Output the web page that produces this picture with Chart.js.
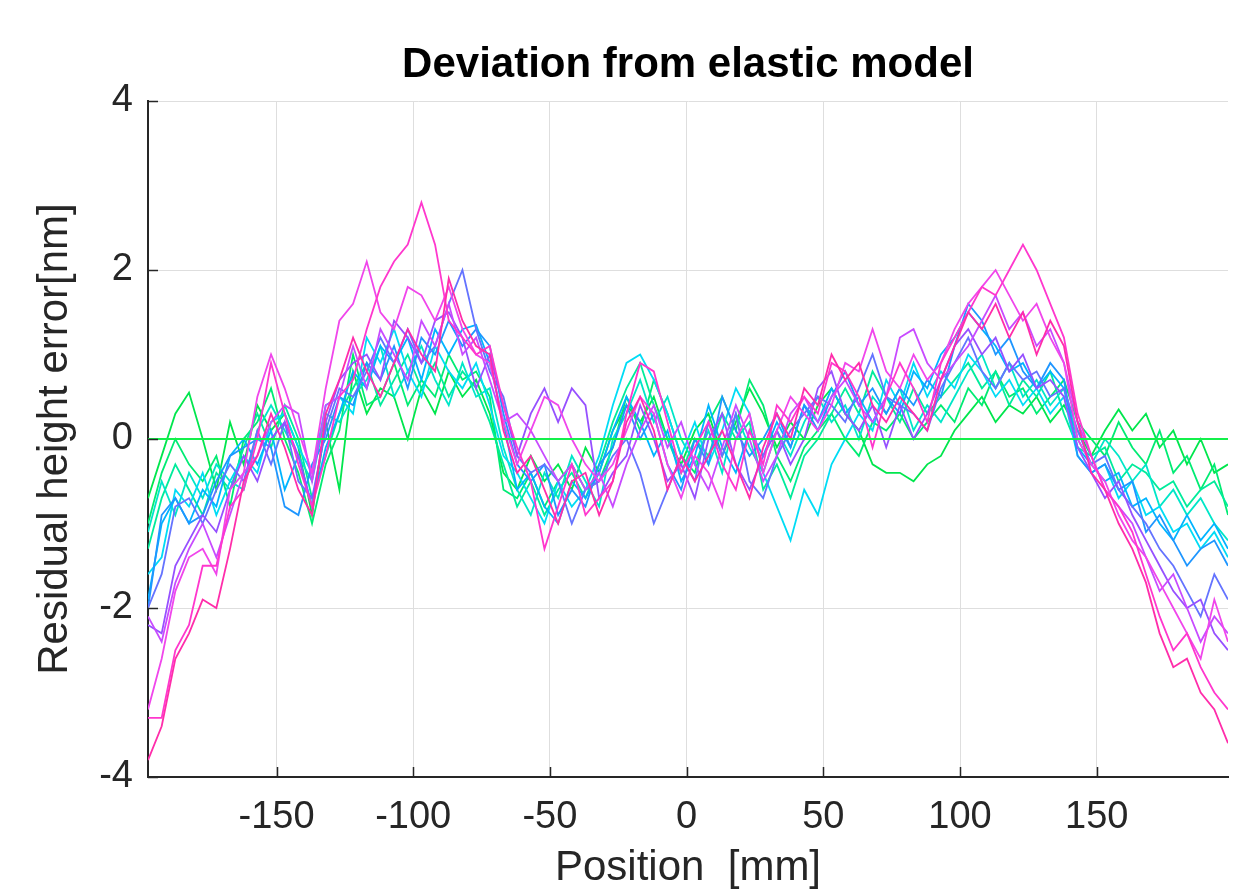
<!DOCTYPE html>
<html>
<head>
<meta charset="utf-8">
<script src="https://cdn.jsdelivr.net/npm/chart.js@4"></script>
<style>
  html, body { margin: 0; padding: 0; background: #fff; }
  canvas { display: block; }
</style>
</head>
<body>
<canvas id="chart" width="1237" height="891"></canvas>
<script>
const FONT = '"Liberation Sans", Arial, Helvetica, sans-serif';
const chartTitle = 'Deviation from elastic model';

// positions along the part [mm]
const positions = [
  -197, -192, -187, -182, -177, -172, -167, -162, -157, -152,
  -147, -142, -137, -132, -127, -122, -117, -112, -107, -102,
  -97, -92, -87, -82, -77, -72, -67, -62, -57, -52,
  -47, -42, -37, -32, -27, -22, -17, -12, -7, -2,
  3, 8, 13, 18, 23, 28, 33, 38, 43, 48,
  53, 58, 63, 68, 73, 78, 83, 88, 93, 98,
  103, 108, 113, 118, 123, 128, 133, 138, 143, 148,
  153, 158, 163, 168, 173, 178, 183, 188, 193, 198
];
const xTicks = [-150, -100, -50, 0, 50, 100, 150];
const yTicks = [-4, -2, 0, 2, 4];

// reference (zero) line
const referenceX = [-197, 198];
const referenceLine = [0, 0];

// residuals [nm], one array per measurement
const green1 = [
  -0.7, -0.2, 0.3, 0.55, 0.0, -0.6, 0.2, -0.3, 0.4, 0.1,
  0.3, -0.1, -0.9, 0.2, -0.6, 0.8, 0.3, 0.6, 0.5, 0.0,
  0.6, 0.3, 0.8, 0.5, 0.7, 0.3, -0.4, -0.6, -0.2, -0.5,
  -0.3, -0.6, -0.1, -0.4, 0.1, 0.4, 0.2, 0.5, 0.0, -0.3,
  0.1, 0.3, -0.2, 0.2, 0.6, 0.3, -0.1, 0.2, 0.0, 0.4,
  0.6, 0.3, 0.1, -0.3, -0.4, -0.4, -0.5, -0.3, -0.2, 0.1,
  0.3, 0.5, 0.2, 0.4, 0.3, 0.5, 0.2, 0.4, 0.1, -0.2,
  0.1, 0.35, 0.1, 0.3, -0.1, 0.1, -0.3, 0.0, -0.4, -0.3
];
const green2 = [
  -1.0, -0.4, 0.0, -0.3, -0.5, -0.2, -0.8, 0.0, 0.2, 0.6,
  0.0, -0.4, -1.0, -0.3, 0.1, 1.0, 0.4, 0.5, 0.9, 0.4,
  0.7, 0.5, 1.0, 0.7, 0.8, 0.5, -0.6, -0.7, -0.4, -0.8,
  -0.5, -0.3, -0.6, -0.5, -0.1, 0.5, 0.1, 0.7, 0.3, -0.2,
  -0.4, 0.2, 0.5, 0.1, 0.7, 0.4, -0.2, -0.5, -0.1, 0.1,
  0.3, 0.0, -0.2, 0.2, 0.1, 0.3, 0.0, 0.2, 0.4, 0.2,
  0.6, 0.4, 0.8, 0.5, 0.6, 0.3, 0.5, 0.7, 0.2, 0.0,
  -0.2, 0.2, -0.1, -0.3, 0.1, -0.4, -0.2, -0.6, -0.3, -0.9
];
const teal1 = [
  -1.3, -0.7, -0.3, -0.6, -0.9, -0.4, -0.6, -0.1, 0.3, -0.1,
  0.4, 0.0, -0.7, -0.2, 0.3, 0.6, 0.9, 0.4, 0.7, 1.0,
  0.6, 0.9, 0.5, 0.8, 0.6, 0.2, -0.3, -0.8, -0.5, -0.9,
  -0.6, -0.4, -0.7, -0.3, 0.2, 0.6, 0.9, 0.4, 0.0, -0.4,
  0.0, -0.2, 0.3, 0.0, 0.2, -0.6, -0.3, -0.7, -0.2, 0.0,
  0.3, 0.6, 0.3, 0.8, 0.5, 0.2, 0.6, 0.3, 0.5, 0.7,
  0.9, 0.6, 0.8, 0.4, 0.7, 0.5, 0.8, 0.3, -0.1, -0.2,
  -0.1, -0.5, -0.3, -0.4, -0.6, -0.5, -0.8, -0.6, -0.5, -0.8
];
const teal2 = [
  -1.1, -0.5, -0.9, -0.4, -0.7, -0.3, -0.5, -0.6, 0.1, 0.4,
  0.1, -0.2, -0.5, 0.3, 0.2, 0.5, 0.7, 1.1, 0.5, 0.8,
  1.1, 0.7, 0.4, 0.9, 0.5, 0.6, -0.1, -0.6, -0.9, -0.4,
  -0.7, -0.2, -0.5, -0.8, 0.0, 0.3, 0.7, 0.2, 0.5, 0.0,
  -0.3, 0.1, -0.4, 0.3, -0.1, -0.4, 0.1, -0.2, 0.2, 0.5,
  0.2, 0.4, 0.0, 0.5, 0.3, 0.6, 0.1, 0.4, 0.2, 0.5,
  0.8, 1.0, 0.6, 0.9, 0.5, 0.7, 0.4, 0.6, 0.0, -0.3,
  0.0, -0.2, -0.5, -0.3, -0.8, -0.6, -0.9, -0.7, -1.0, -1.2
];
const cyan1 = [
  -1.6, -1.4, -0.6, -0.8, -0.4, -0.9, -0.5, -0.2, -0.4, 0.2,
  0.3, -0.1, -0.4, 0.4, 0.5, 0.3, 1.2, 0.9, 1.3, 0.8,
  0.5, 1.1, 0.8, 0.6, 0.9, 0.4, -0.2, -0.4, -0.7, -1.0,
  -0.5, -0.8, -0.6, -0.2, 0.4, 0.9, 1.0, 0.7, 0.3, -0.2,
  0.2, -0.3, 0.1, 0.6, 0.3, -0.4, -0.8, -1.2, -0.6, -0.9,
  -0.3, 0.0, 0.3, 0.1, 0.7, 0.4, 0.9, 0.5, 0.8, 0.6,
  1.0, 0.8, 0.5, 0.7, 0.4, 0.6, 0.3, 0.5, -0.2, -0.4,
  -0.3, -0.7, -0.5, -0.9, -0.8, -1.1, -1.0, -1.3, -1.1, -1.4
];
const cyan2 = [
  -1.9, -1.0, -0.7, -1.0, -0.6, -0.8, -0.2, 0.0, -0.3, 0.1,
  -0.6, -0.2, -0.8, -0.1, 0.3, 0.8, 0.6, 1.1, 0.9, 1.2,
  0.7, 1.3, 1.0, 1.3, 1.35, 0.9, 0.2, -0.6, -0.4, -0.8,
  -1.0, -0.5, -0.7, -0.4, 0.1, 0.5, 0.2, -0.2, 0.1, -0.5,
  -0.2, 0.4, -0.1, -0.4, 0.1, -0.2, 0.2, -0.1, 0.4, 0.2,
  0.6, 0.3, 0.5, 0.2, 0.5, 0.3, 0.8, 0.6, 1.0, 1.2,
  1.5, 1.3, 1.1, 0.8, 0.9, 0.6, 0.8, 0.6, -0.1, -0.3,
  -0.5, -0.4, -0.8, -0.7, -1.0, -1.2, -0.9, -1.2, -1.0, -1.3
];
const blue1 = [
  -2.0, -0.9, -0.7, -1.0, -0.9, -0.5, -0.2, -0.1, 0.0, -0.1,
  -0.8, -0.9, -0.3, 0.0, 0.5, 0.4, 0.9, 0.7, 1.1, 0.6,
  1.2, 1.0, 1.4, 1.1, 1.3, 1.1, 0.3, -0.3, -0.5, -0.3,
  -0.9, -0.6, -0.8, -0.3, -0.1, 0.4, 0.0, 0.3, -0.3, -0.6,
  0.0, -0.3, 0.5, 0.1, -0.2, 0.0, 0.3, -0.1, 0.4, 0.1,
  0.5, 0.8, 0.4, 0.6, 0.3, 0.6, 0.4, 0.7, 0.5, 1.1,
  1.6, 1.4, 1.0, 1.2, 0.8, 0.6, 0.9, 0.7, -0.2, -0.4,
  -0.3, -0.6, -0.5, -1.1, -0.9, -1.2, -1.5, -1.3, -1.2, -1.5
];
const blue2 = [
  -2.0, -1.6, -0.8, -0.7, -1.0, -0.6, -0.3, -0.5, 0.1, -0.3,
  0.2, -0.5, -0.7, 0.1, 0.6, 0.5, 0.8, 1.2, 0.9, 1.3,
  0.9, 1.1, 1.6, 2.0, 1.3, 0.8, 0.5, -0.2, -0.4, -0.3,
  -0.5, -1.0, -0.6, -0.5, -0.2, 0.0, -0.4, -1.0, -0.6, -0.2,
  -0.5, 0.2, -0.2, 0.3, -0.5, -0.7, -0.2, 0.1, 0.3, 0.5,
  0.4, 0.2, 0.6, 1.0, 0.5, 0.4, 0.3, 0.1, 0.6, 0.9,
  1.2, 0.8, 0.6, 0.9, 0.7, 0.8, 0.5, 0.6, 0.1, -0.3,
  -0.2, -0.6, -0.8, -1.0, -1.3, -1.5, -1.8, -2.1, -1.6, -1.9
];
const purple1 = [
  -2.2, -2.3, -1.5, -1.2, -0.9, -1.1, -0.6, -0.2, -0.5, 0.0,
  0.2, -0.2, -0.8, 0.2, 0.7, 0.9, 1.0, 0.7, 1.4, 1.2,
  0.9, 1.4, 1.5, 1.2, 0.6, 1.0, 0.4, -0.2, 0.3, 0.6,
  0.2, 0.6, 0.4, -0.7, -0.4, -0.2, 0.4, 0.0, -0.5, -0.3,
  -0.7, 0.0, 0.3, -0.3, -0.6, -0.2, 0.1, -0.3, 0.0, 0.6,
  0.8, 0.3, 0.1, 0.4, -0.1, 0.4, 0.0, 0.3, 0.7, 1.1,
  1.3, 1.0, 1.2, 0.8, 1.0, 0.6, 0.7, 0.5, -0.1, -0.4,
  -0.7, -0.5, -0.9, -1.2, -1.5, -1.8, -2.0, -1.9, -2.3, -2.5
];
const purple2 = [
  -2.1, -2.4, -1.7, -1.3, -1.0, -1.4, -0.9, -0.4, -0.2, 0.2,
  0.4, 0.3, -0.5, 0.4, 0.5, 1.1, 0.6, 1.3, 1.0, 0.7,
  1.4, 1.1, 1.6, 1.0, 1.2, 0.7, 0.2, 0.3, 0.1, -0.2,
  -0.5, -0.3, -0.6, -0.4, -0.8, -0.3, 0.1, 0.4, -0.1, 0.2,
  -0.3, -0.6, -0.1, 0.4, 0.0, -0.5, -0.2, 0.3, 0.5, 0.2,
  0.5, 0.7, 0.4, 0.2, 0.5, 1.2, 1.3, 0.9, 0.7, 0.9,
  1.1, 1.4, 1.7, 1.3, 1.5, 1.1, 1.3, 0.9, 0.2, -0.2,
  -0.6, -0.8, -1.0, -1.4, -1.8, -1.6, -2.0, -2.4, -2.1, -2.3
];
const magenta1 = [
  -3.2, -2.6, -1.8, -1.4, -1.3, -1.6, -0.6, -0.4, 0.5, 1.0,
  0.6, 0.1, -0.4, 0.6, 1.4, 1.6, 2.1, 1.5, 1.3, 1.8,
  1.7, 1.4, 1.8, 1.3, 1.0, 0.9, 0.2, -0.3, 0.1, 0.5,
  0.4, 0.0, -0.3, -0.5, -0.3, 0.1, 0.5, 0.3, -0.3, -0.7,
  -0.2, -0.4, -0.8, 0.0, 0.3, -0.4, 0.1, 0.5, 0.3, 0.1,
  0.4, 0.9, 0.8, 1.3, 0.8, 0.6, 1.0, 0.7, 0.9, 1.3,
  1.6, 1.8, 2.0, 1.7, 1.4, 1.6, 1.2, 0.9, 0.0, -0.3,
  -0.5, -0.9, -1.2, -1.4, -1.7, -2.0, -2.3, -2.6, -1.9, -2.4
];
const pink1 = [
  -3.3, -3.3, -2.5, -2.2, -1.5, -1.5, -0.8, -0.6, 0.0, 0.9,
  0.3, -0.3, -0.8, -0.2, 0.5, 0.7, 1.3, 1.8, 2.1, 2.3,
  2.8, 2.3, 1.4, 1.2, 1.0, 1.1, 0.4, -0.1, -0.5, -1.3,
  -0.8, -0.3, -0.9, -0.7, -0.5, 0.3, 0.9, 0.8, 0.2, -0.4,
  -0.1, 0.2, -0.3, -0.6, 0.1, -0.3, 0.4, 0.2, 0.5, 0.3,
  0.9, 0.8, 0.5, -0.1, 0.5, 0.9, 0.6, 0.2, 0.9, 1.2,
  1.5, 1.8, 1.7, 2.0, 2.3, 2.0, 1.6, 1.2, 0.3, -0.2,
  -0.6, -0.8, -1.1, -1.6, -2.1, -2.5, -2.3, -2.7, -3.0, -3.2
];
const pink2 = [
  -3.8, -3.4, -2.6, -2.3, -1.9, -2.0, -1.3, -0.5, -0.2, 0.3,
  -0.1, -0.6, -0.9, 0.3, 0.7, 1.2, 0.8, 0.5, 0.9, 1.3,
  1.0, 0.8, 1.9, 1.4, 1.1, 1.0, 0.1, -0.4, -0.2, -0.6,
  -1.0, -0.5, -0.4, -0.9, -0.5, 0.2, 0.5, 0.1, -0.6, -0.2,
  -0.5, -0.2, 0.1, -0.3, -0.7, -0.1, 0.3, 0.0, 0.6, 0.4,
  1.0, 0.7, 0.9, 0.4, 0.2, 0.5, 0.3, 0.1, 0.7, 1.1,
  1.5, 1.3, 1.6, 1.2, 1.5, 1.0, 1.4, 1.1, 0.2, -0.4,
  -0.6, -1.0, -1.3, -1.7, -2.3, -2.7, -2.6, -3.0, -3.2, -3.6
];

const series = [
  { values: green1, color: '#00e64d' },
  { values: green2, color: '#00eb73' },
  { values: teal1, color: '#00eb9b' },
  { values: teal2, color: '#00e6c8' },
  { values: cyan1, color: '#00dcf5' },
  { values: cyan2, color: '#00b4ff' },
  { values: blue1, color: '#1e96ff' },
  { values: blue2, color: '#6473ff' },
  { values: purple1, color: '#9650ff' },
  { values: purple2, color: '#c84bff' },
  { values: magenta1, color: '#f046eb' },
  { values: pink1, color: '#ff37cd' },
  { values: pink2, color: '#ff2daa' }
];

const datasets = series.map((s, i) => ({
  data: s.values.map((v, j) => ({ x: positions[j], y: v })),
  borderColor: s.color,
  borderWidth: 1.8,
  order: series.length - i + 1
}));
datasets.push({
  data: referenceLine.map((v, j) => ({ x: referenceX[j], y: v })),
  borderColor: '#14f04b',
  borderWidth: 2,
  order: 0
});

// MATLAB-style inward tick marks + title centred over the axes
const axesDecor = {
  id: 'axesDecor',
  afterDraw(chart) {
    const { ctx, chartArea: a, scales: { x, y } } = chart;
    ctx.save();
    ctx.strokeStyle = '#262626';
    ctx.lineWidth = 1.5;
    x.ticks.forEach(t => {
      const px = Math.round(x.getPixelForValue(t.value)) + 0.5;
      ctx.beginPath();
      ctx.moveTo(px, a.bottom);
      ctx.lineTo(px, a.bottom - 10);
      ctx.stroke();
    });
    y.ticks.forEach(t => {
      const py = Math.round(y.getPixelForValue(t.value)) + 0.5;
      ctx.beginPath();
      ctx.moveTo(a.left, py);
      ctx.lineTo(a.left + 10, py);
      ctx.stroke();
    });
    ctx.fillStyle = '#000';
    ctx.font = 'bold 42px ' + FONT;
    ctx.textAlign = 'center';
    ctx.textBaseline = 'middle';
    ctx.fillText(chartTitle, (a.left + a.right) / 2, 65);
    ctx.restore();
  }
};

new Chart(document.getElementById('chart'), {
  type: 'line',
  data: { datasets },
  options: {
    responsive: false,
    animation: false,
    layout: { padding: { left: 0, right: 9, top: 101, bottom: 0 } },
    elements: { point: { radius: 0 }, line: { tension: 0 } },
    plugins: {
      legend: { display: false },
      tooltip: { enabled: false },
      title: { display: false }
    },
    scales: {
      x: {
        type: 'linear',
        min: -197,
        max: 198,
        afterBuildTicks: s => { s.ticks = xTicks.map(v => ({ value: v })); },
        afterFit: s => { s.height = 114; },
        grid: { color: '#dedede', drawTicks: false, lineWidth: 1 },
        border: { color: '#262626', width: 2 },
        ticks: { color: '#262626', font: { family: FONT, size: 38 }, padding: 18, maxRotation: 0 },
        title: {
          display: true,
          text: 'Position  [mm]',
          color: '#262626',
          font: { family: FONT, size: 42, lineHeight: 1 },
          padding: { top: 0, bottom: 2 }
        }
      },
      y: {
        min: -4,
        max: 4,
        afterBuildTicks: s => { s.ticks = yTicks.map(v => ({ value: v })); },
        afterFit: s => { s.width = 148; },
        grid: { color: '#dedede', drawTicks: false, lineWidth: 1 },
        border: { color: '#262626', width: 2 },
        ticks: { color: '#262626', font: { family: FONT, size: 38 }, padding: 15 },
        title: {
          display: true,
          text: 'Residual height error[nm]',
          color: '#262626',
          font: { family: FONT, size: 42 },
          padding: { top: 30, bottom: 0 }
        }
      }
    }
  },
  plugins: [axesDecor]
});
</script>
</body>
</html>
